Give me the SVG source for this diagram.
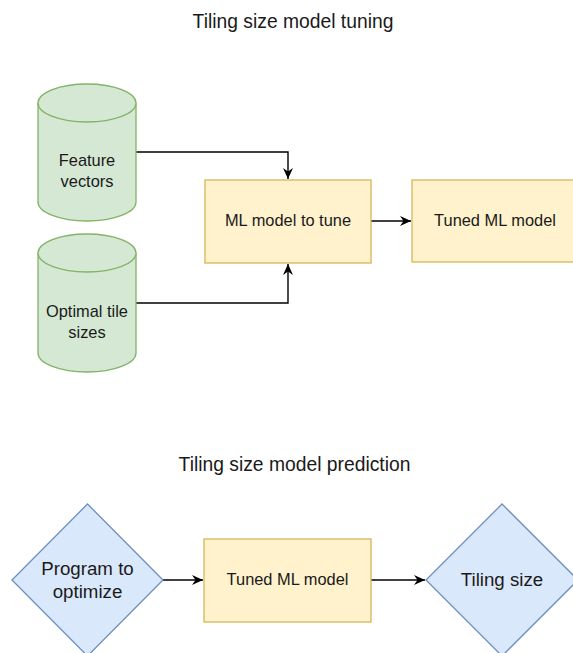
<svg xmlns="http://www.w3.org/2000/svg" width="573" height="653" viewBox="0 0 573 653">
<style>
text{font-family:"Liberation Sans",Arial,Helvetica,sans-serif;fill:#1a1a1a;text-anchor:middle}
.title{font-size:19.3px}
.lbl{font-size:16.4px}
.big{font-size:18.7px}
.cyl{fill:#d5e8d4;stroke:#82b366;stroke-width:1.3}
.box{fill:#fff2cc;stroke:#d6b656;stroke-width:1.3}
.dia{fill:#dae8fc;stroke:#6c8ebf;stroke-width:1.3}
.edge{fill:none;stroke:#000;stroke-width:1.4;marker-end:url(#arr)}
</style>
<defs>
<marker id="arr" markerUnits="userSpaceOnUse" markerWidth="12" markerHeight="12" refX="11" refY="6" orient="auto">
<path d="M0,1 L11,6 L0,11 L3.5,6 z" fill="#000"/>
</marker>
</defs>
<rect width="573" height="653" fill="#fff"/>
<text class="title" x="293" y="27.5">Tiling size model tuning</text>
<text class="title" x="294.5" y="470.5">Tiling size model prediction</text>
<g id="edges">
<path class="edge" d="M136,152 H288 V179"/>
<path class="edge" d="M136,303 H288 V264"/>
<path class="edge" d="M371,221 H411"/>
<path class="edge" d="M163,580 H203"/>
<path class="edge" d="M371,580 H425"/>
</g>
<g id="feature-vectors">
<path class="cyl" d="M38,103 A49,19 0 0 1 136,103 V202 A49,19 0 0 1 38,202 Z"/>
<path class="cyl" d="M38,103 A49,19 0 0 0 136,103" fill="none"/>
<text class="lbl" x="87" y="165.5">Feature</text>
<text class="lbl" x="87" y="186.5">vectors</text>
</g>
<g id="optimal-tile-sizes">
<path class="cyl" d="M38,253 A49,19 0 0 1 136,253 V353 A49,19 0 0 1 38,353 Z"/>
<path class="cyl" d="M38,253 A49,19 0 0 0 136,253" fill="none"/>
<text class="lbl" x="87" y="317">Optimal tile</text>
<text class="lbl" x="87" y="338">sizes</text>
</g>
<g id="ml-model-to-tune">
<rect class="box" x="205" y="180" width="166" height="83"/>
<text class="lbl" x="288" y="226">ML model to tune</text>
</g>
<g id="tuned-ml-model-top">
<rect class="box" x="412" y="180" width="166" height="82"/>
<text class="lbl" x="495" y="226">Tuned ML model</text>
</g>
<g id="program-to-optimize">
<path class="dia" d="M87.5,504 L163,580 L87.5,656 L12,580 Z"/>
<text class="big" x="87.5" y="575">Program to</text>
<text class="big" x="87.5" y="598">optimize</text>
</g>
<g id="tuned-ml-model-bottom">
<rect class="box" x="204" y="539" width="167" height="83"/>
<text class="lbl" x="287.5" y="585">Tuned ML model</text>
</g>
<g id="tiling-size">
<path class="dia" d="M502,504 L578,580 L502,656 L426,580 Z"/>
<text class="big" x="502" y="586">Tiling size</text>
</g>
</svg>
